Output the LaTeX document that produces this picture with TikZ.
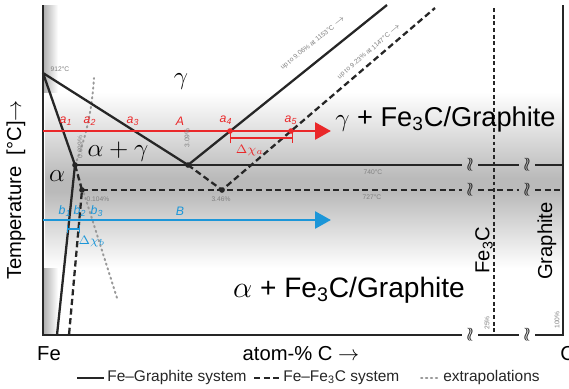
\documentclass[tikz,border=0pt]{standalone}
\usepackage{fontspec}
\setmainfont{Liberation Sans}
\usepackage{xcolor}
\usetikzlibrary{arrows.meta, calc}

\definecolor{vermelhoA}{RGB}{234,40,42}
\definecolor{azulB}{RGB}{28,150,216}

\begin{document}
\begin{tikzpicture}[
    x=0.02cm, y=-0.02cm,
    every node/.style={inner sep=0pt},
    contorno/.style={
        draw=black!85,
        line width=1.3pt,
        line join=round
    },
    tracejado/.style={
        draw=black!85,
        line width=1.3pt,
        dash pattern=on 3.5pt off 2pt
    },
    pontilhado/.style={
        draw=black!40,
        line width=1.1pt,
        dash pattern=on 0.8pt off 2pt,
        line cap=round
    },
    eixo/.style={
        draw=black!85,
        line width=1.6pt
    },
    seta/.style={
        line width=1.7pt,
        -{Triangle[length=9pt,width=9.5pt]}
    },
    fase/.style={
        font=\fontsize{15.5}{18}\selectfont
    },
    rotulo/.style={
        font=\fontsize{7}{8}\selectfont\itshape
    },
    cinza/.style={
        font=\fontsize{3.8}{4.5}\selectfont,
        text=black!50
    },
    eixotexto/.style={
        font=\fontsize{11.5}{13}\selectfont
    },
    legenda/.style={
        font=\fontsize{8.8}{10}\selectfont,
        text=black!85,
        anchor=west
    },
    quebra/.style={
        font=\fontsize{11}{11}\selectfont,
        text=black!85
    }
]

\useasboundingbox (0,0) rectangle (569,389);

% ============================================================
% FUNDO
% ============================================================

\shade[top color=white, bottom color=black!27] (45,92) rectangle (563,178);
\fill[black!27] (45,178) rectangle (563,192);
\shade[top color=black!27, bottom color=white] (45,192) rectangle (563,268);
\shade[left color=black!30, right color=white] (44,5) rectangle (58,92);
\shade[left color=black!30, right color=white] (44,268) rectangle (58,335);

% ============================================================
% PONTOS
% ============================================================

\coordinate (p912)  at (43,73);
\coordinate (alfaG) at (75,165);
\coordinate (eutG)  at (188,165);
\coordinate (alfaC) at (82,190);
\coordinate (eutC)  at (222,190);
\coordinate (topoG) at (387,5);
\coordinate (topoC) at (435,8);
\coordinate (baseG) at (57,335);
\coordinate (baseC) at (69,335);

% Extrapolacoes
\draw[pontilhado] (alfaG) .. controls (86,138) and (92,110) .. (94,78);
\draw[pontilhado] (alfaG) -- (117,298);

% Sistema Fe-grafite
\draw[contorno] (p912) -- (alfaG) -- (baseG);
\draw[contorno] (p912) -- (eutG)
    -- node[cinza, sloped, above=7pt, pos=0.68]
       {up to 9.06\% at 1153°C $\rightarrow$}
    (topoG);

% Sistema Fe-Fe3C
\draw[tracejado] (alfaG) -- (alfaC) -- (baseC);
\draw[tracejado] (eutG) -- (eutC)
    -- node[cinza, sloped, above=3pt, pos=0.72]
       {up to 9.23\% at 1147°C $\rightarrow$}
    (topoC);

% Linhas eutetoides
\draw[contorno] (alfaG) -- (462,165) (478,165) -- (519,165) (535,165) -- (563,165);
\draw[tracejado] (alfaC) -- (462,190) (478,190) -- (519,190) (535,190) -- (563,190);

\foreach \p in {alfaG, eutG, alfaC, eutC}
    \fill[black!85] (\p) circle[radius=1.6pt];

% Eixos
\draw[eixo] (43,5) -- (43,335) -- (462,335);
\draw[eixo] (478,335) -- (519,335) (535,335) -- (563,335) -- (563,5);
\draw[tracejado, dash pattern=on 2.2pt off 1.6pt] (494,8) -- (494,335);

\foreach \xq in {470, 527}
    \foreach \yq in {165, 190, 335}
        \node[quebra] at (\xq,\yq) {$\wr\!\wr$};

% ============================================================
% SETAS A e B
% ============================================================

\draw[seta, vermelhoA] (43,131) -- (331,131);
\draw[seta, azulB] (43,220) -- (331,220);

\fill[vermelhoA] (230,131) circle[radius=1.6pt];
\fill[vermelhoA] (291,131) circle[radius=1.6pt];

\node[rotulo, text=vermelhoA] (a1) at (66,121) {a\textsubscript{1}};
\node[rotulo, text=vermelhoA] (a2) at (90,121) {a\textsubscript{2}};
\node[rotulo, text=vermelhoA] (a3) at (133,121) {a\textsubscript{3}};
\node[rotulo, text=vermelhoA] (rA) at (180,121) {A};
\node[rotulo, text=vermelhoA] (a4) at (226,120) {a\textsubscript{4}};
\node[rotulo, text=vermelhoA] (a5) at (291,120) {a\textsubscript{5}};

\draw[vermelhoA, line width=0.8pt, {Bar[width=6pt]}-{Bar[width=6pt]}]
    (230,138) -- (293,138);
\node[rotulo, text=vermelhoA] (dxa) at (250,150) {$\Delta\chi_a$};

\node[rotulo, text=azulB] (b1) at (65,211) {b\textsubscript{1}};
\node[rotulo, text=azulB] (b2) at (80,211) {b\textsubscript{2}};
\node[rotulo, text=azulB] (b3) at (97,211) {b\textsubscript{3}};
\node[rotulo, text=azulB] (rB) at (180,211) {B};

\draw[azulB, line width=0.8pt, {Bar[width=4.5pt]}-{Bar[width=4.5pt]}]
    (67,229) -- (80,229);
\node[rotulo, text=azulB] (dxb) at (92,241) {$\Delta\chi_b$};

% ============================================================
% CAMPOS DE FASE
% ============================================================

\node[fase] (gama) at (181,82) {$\gamma$};
\node[fase, font=\fontsize{14}{16}\selectfont] (alfagama) at (118,152) {$\alpha+\gamma$};
\node[fase, font=\fontsize{14}{16}\selectfont] (alfa) at (57,176) {$\alpha$};
\node[fase, anchor=west] (gamafe) at (335,119) {$\gamma$ + Fe\textsubscript{3}C/Graphite};
\node[fase, font=\fontsize{16}{18}\selectfont] (alfafe) at (349,290) {$\alpha$ + Fe\textsubscript{3}C/Graphite};

\node[eixotexto, rotate=90] (cem) at (484,250) {Fe\textsubscript{3}C};
\node[eixotexto, rotate=90] (graf) at (547,241) {Graphite};

% Valores
\node[cinza] (t912) at (60,69) {912°C};
\node[cinza] (c104) at (98,199) {0.104\%};
\node[cinza] (c346) at (221,199) {3.46\%};
\node[cinza] (t740) at (373,172) {740°C};
\node[cinza] (t727) at (372,197) {727°C};
\node[cinza, rotate=90] (c309) at (187,138) {3.09\%};
\node[cinza, rotate=90] (c099) at (80,147) {0.099\%};
\node[cinza, rotate=90] (c25) at (487,323) {25\%};
\node[cinza, rotate=90] (c100) at (557,320) {100\%};

% ============================================================
% EIXOS E LEGENDA
% ============================================================

\node[eixotexto, rotate=90] (ltemp) at (16,190) {Temperature\ \ [°C]$\rightarrow$};
\node[eixotexto] (lfe) at (49,354) {Fe};
\node[eixotexto] (lx) at (301,354) {atom-\% C $\rightarrow$};
\node[eixotexto, anchor=west] (lc) at (560,354) {C};

\draw[contorno] (77,378) -- (104,378);
\node[legenda] (leg1) at (107,378) {Fe–Graphite system};
\draw[tracejado] (254,378) -- (280,378);
\node[legenda] (leg2) at (283,378) {Fe–Fe\textsubscript{3}C system};
\draw[pontilhado] (421,378) -- (439,378);
\node[legenda] (leg3) at (443,378) {extrapolations};

\end{tikzpicture}
\end{document}
